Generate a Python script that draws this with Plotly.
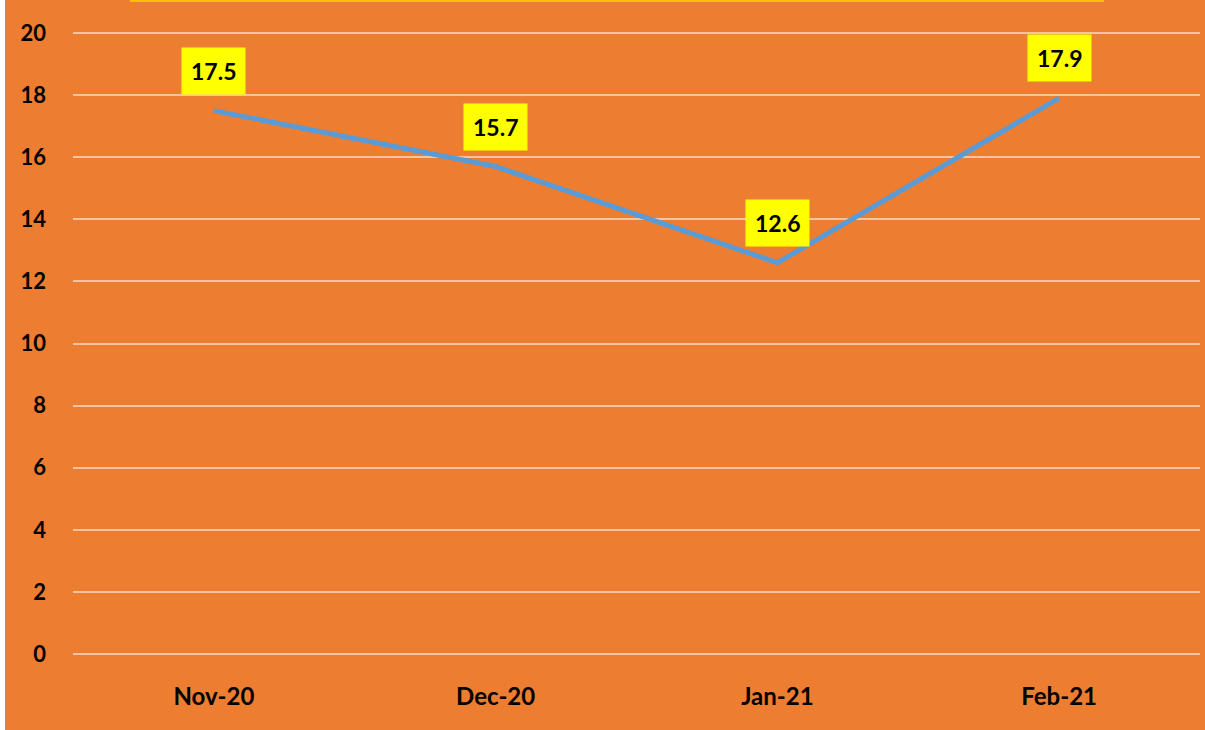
import plotly.graph_objects as go

months = ["Nov-20", "Dec-20", "Jan-21", "Feb-21"]
values = [17.5, 15.7, 12.6, 17.9]
y_ticks = [0, 2, 4, 6, 8, 10, 12, 14, 16, 18, 20]

ORANGE = "#ED7D31"
FONT = "Lato"

fig = go.Figure()
fig.add_trace(go.Scatter(
    x=months, y=values, mode="lines",
    line=dict(color="#5B9BD5", width=5),
    hoverinfo="skip", showlegend=False,
))

for m, v in zip(months, values):
    fig.add_annotation(
        x=m, y=v, xref="x", yref="y", text=f"<b>{v}</b>",
        showarrow=False, yshift=40, bgcolor="#FFFF00",
        font=dict(family=FONT, size=23, color="#000000"),
        borderpad=9,
    )

# white strip at left edge and cropped title box at top
fig.add_shape(type="rect", xref="paper", yref="paper",
              x0=-73/1127, x1=-68/1127, y0=-1, y1=2,
              fillcolor="white", line=dict(width=0), layer="below")
fig.add_shape(type="line", xref="paper", yref="paper",
              x0=(130-73)/1127, x1=(1104-73)/1127, y0=1+9/670, y1=1+9/670,
              line=dict(color="#FFC000", width=2))

fig.update_layout(
    width=1205, height=730,
    margin=dict(l=73, r=5, t=10, b=50),
    paper_bgcolor=ORANGE, plot_bgcolor=ORANGE,
    xaxis=dict(
        type="category", range=[-0.5, 3.5], showgrid=False, zeroline=False,
        showline=False, ticks="",
        tickfont=dict(family=FONT, size=24, color="#000000", weight="bold"),
    ),
    yaxis=dict(
        range=[-26/31.05, 20 + 23/31.05], tickvals=y_ticks,
        showgrid=True, gridcolor="rgba(255,255,255,0.55)", gridwidth=2,
        zeroline=False, showline=False, ticks="",
        tickfont=dict(family=FONT, size=22, color="#000000", weight="bold"),
        ticklabelstandoff=26,
    ),
)

fig.write_html("out.html", config={"displayModeBar": False},
               post_script="document.body.style.margin='0';")
